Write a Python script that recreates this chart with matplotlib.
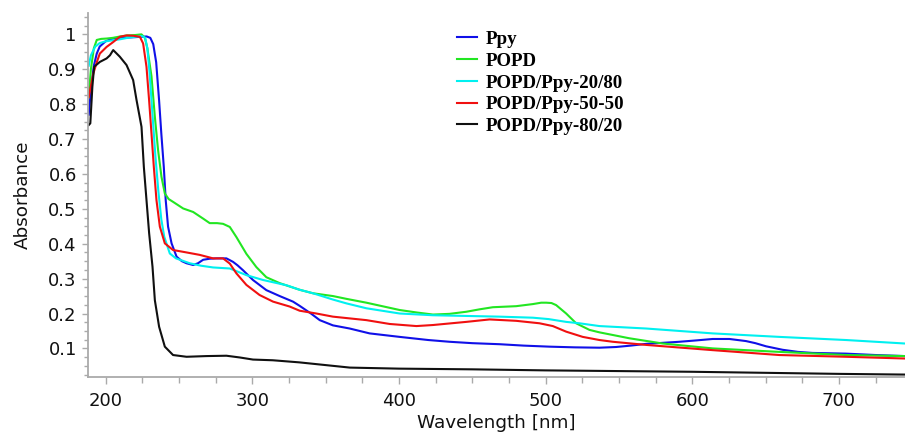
import matplotlib
matplotlib.use("Agg")
import matplotlib.pyplot as plt
from matplotlib.ticker import MultipleLocator, FuncFormatter

# ===== DATA =====
ppy_w = [188.5, 190, 192, 194, 196, 200, 205, 210, 220, 228, 230.5, 232.5, 234.5, 236.5, 238,
         239.7, 241, 242.6, 245, 248.4, 252, 255.2, 259.7, 263, 266.5, 271, 275.6, 282.4, 286.9,
         290, 293.7, 300.5, 309.6, 318.7, 327.8, 332.3, 340, 346, 355, 366.4, 380, 400.5, 420,
         434.5, 450, 468.6, 485, 502.6, 520, 536.7, 548, 558, 568.5, 580, 591.2, 603, 613.9,
         625.3, 636.6, 643, 650.3, 661.6, 672, 682, 694, 704.8, 725, 745]
ppy_a = [0.77, 0.84, 0.91, 0.945, 0.965, 0.98, 0.988, 0.99, 0.992, 0.994, 0.99, 0.972, 0.92, 0.81,
         0.716, 0.62, 0.525, 0.449, 0.401, 0.363, 0.35, 0.344, 0.339, 0.344, 0.354, 0.357, 0.358,
         0.358, 0.348, 0.338, 0.324, 0.296, 0.267, 0.25, 0.234, 0.222, 0.2, 0.181, 0.166, 0.157,
         0.143, 0.133, 0.124, 0.119, 0.115, 0.112, 0.108, 0.105, 0.103, 0.102, 0.104, 0.108,
         0.113, 0.116, 0.119, 0.123, 0.127, 0.127, 0.121, 0.115, 0.106, 0.096, 0.09, 0.087,
         0.086, 0.085, 0.081, 0.078]

popd_w = [188.5, 190, 192, 194, 197, 200.7, 205, 210, 215, 220, 224.5, 226.8, 228.5, 231.3, 233.6,
          235.8, 238.1, 240.4, 243, 246, 252.9, 259.7, 266.5, 271, 276, 280.1, 284.7, 289.2, 296,
          302.8, 309.6, 318.7, 332.3, 341.4, 355, 364.2, 377.8, 400.5, 412, 423.2, 434.5, 445.9,
          455, 464, 479.9, 491.3, 497, 500.4, 504, 507.2, 514, 520.8, 529.9, 536.7, 557.1, 579.8,
          613.9, 659.3, 704.8, 745]
popd_a = [0.82, 0.9, 0.96, 0.984, 0.987, 0.988, 0.99, 0.994, 0.997, 0.998, 1.0, 0.99, 0.96, 0.88,
          0.764, 0.668, 0.592, 0.544, 0.528, 0.52, 0.501, 0.491, 0.472, 0.459, 0.459, 0.457, 0.448,
          0.419, 0.371, 0.333, 0.304, 0.287, 0.268, 0.258, 0.25, 0.242, 0.231, 0.21, 0.203, 0.197,
          0.199, 0.205, 0.212, 0.218, 0.221, 0.227, 0.231, 0.231, 0.23, 0.224, 0.2, 0.172, 0.153,
          0.146, 0.129, 0.114, 0.1, 0.09, 0.081, 0.078]

mix2080_w = [188.5, 190, 193, 196, 200, 205, 210, 215, 220, 225, 227, 228.5, 230, 232, 234, 236,
             238, 240, 243.8, 248, 257.4, 265, 273.3, 284.7, 296, 307.4, 323.3, 332.3, 341.4, 355,
             364.2, 377.8, 400.5, 423.2, 445.9, 468.6, 491.3, 502, 514, 523, 536.7, 568.5, 613.9,
             659.3, 704.8, 745]
mix2080_a = [0.91, 0.94, 0.965, 0.975, 0.98, 0.983, 0.986, 0.99, 0.993, 0.995, 0.99, 0.96, 0.89,
             0.77, 0.65, 0.55, 0.47, 0.42, 0.372, 0.358, 0.344, 0.337, 0.332, 0.329, 0.31, 0.296,
             0.281, 0.268, 0.258, 0.24, 0.229, 0.215, 0.2, 0.195, 0.193, 0.191, 0.188, 0.184,
             0.176, 0.172, 0.164, 0.157, 0.143, 0.133, 0.124, 0.114]

mix5050_w = [188.5, 191.6, 194, 196.1, 200.7, 205.2, 209.7, 214.3, 219, 223.4, 225.6, 227.9, 229.7,
             231.3, 232.9, 234.7, 237, 240.4, 246, 255.2, 264.2, 273.3, 280.1, 284.7, 289.2, 296,
             305, 314.2, 325.5, 332.3, 343.7, 355, 377.8, 393.7, 411.9, 423.2, 445.9, 461.8, 480,
             495.8, 504.9, 514, 525.3, 536.7, 545.8, 568.5, 613.9, 659.3, 704.8, 745]
mix5050_a = [0.82, 0.887, 0.92, 0.945, 0.964, 0.978, 0.993, 0.997, 0.996, 0.993, 0.974, 0.907,
             0.81, 0.716, 0.62, 0.525, 0.449, 0.401, 0.382, 0.375, 0.368, 0.358, 0.358, 0.343,
             0.315, 0.282, 0.253, 0.234, 0.22, 0.208, 0.2, 0.191, 0.181, 0.17, 0.164, 0.167, 0.176,
             0.183, 0.179, 0.172, 0.164, 0.148, 0.133, 0.124, 0.119, 0.11, 0.095, 0.081, 0.076, 0.071]

mix8020_w = [188.5, 189.6, 191, 192.2, 196.1, 200.7, 203, 205.2, 209.7, 214.3, 218.8, 221.1, 224.5,
             226.1, 227.9, 229.7, 232, 233.6, 236.5, 240.4, 246, 255.2, 262, 268.8, 282.4, 291.5,
             300.5, 314, 332, 366.5, 400, 450, 500, 550, 600, 650, 700, 745]
mix8020_a = [0.74, 0.745, 0.85, 0.907, 0.921, 0.931, 0.94, 0.955, 0.936, 0.912, 0.869, 0.812, 0.735,
             0.62, 0.525, 0.43, 0.334, 0.238, 0.162, 0.105, 0.081, 0.076, 0.077, 0.078, 0.079,
             0.074, 0.068, 0.066, 0.06, 0.045, 0.042, 0.04, 0.037, 0.035, 0.033, 0.03, 0.027, 0.025]

series = [
    ("Ppy", ppy_w, ppy_a, "#1010e8"),
    ("POPD", popd_w, popd_a, "#22e622"),
    ("POPD/Ppy-20/80", mix2080_w, mix2080_a, "#00f0f0"),
    ("POPD/Ppy-50-50", mix5050_w, mix5050_a, "#f01010"),
    ("POPD/Ppy-80/20", mix8020_w, mix8020_a, "#101010"),
]

# ===== VẼ BIỂU ĐỒ =====
fig = plt.figure(figsize=(9.05, 4.33), dpi=100)
ax = fig.add_axes([0.0972, 0.1293, 0.9028, 0.8397])

for label, w, a, color in series:
    ax.plot(w, a, color=color, lw=1.5, label=label)

ax.set_xlim(188, 745)
ax.set_ylim(0.018, 1.06)

ax.xaxis.set_major_locator(MultipleLocator(100))
ax.xaxis.set_minor_locator(MultipleLocator(25))
ax.yaxis.set_major_locator(MultipleLocator(0.1))
ax.yaxis.set_minor_locator(MultipleLocator(0.025))
ax.yaxis.set_major_formatter(FuncFormatter(lambda v, p: "%g" % round(v, 2)))

axis_grey = "#aaaaaa"
for side in ["top", "right"]:
    ax.spines[side].set_visible(False)
for side in ["left", "bottom"]:
    ax.spines[side].set_color(axis_grey)
    ax.spines[side].set_linewidth(1.3)

ax.tick_params(axis="both", which="both", color=axis_grey, width=1, direction="out",
               labelsize=13, labelcolor="#111111")
ax.tick_params(axis="x", which="major", length=5, pad=6)
ax.tick_params(axis="x", which="minor", length=4)
ax.tick_params(axis="y", which="major", length=4, pad=4)
ax.tick_params(axis="y", which="minor", length=3)

ax.set_xlabel("Wavelength [nm]", fontsize=13.2, color="#111111", labelpad=3)
ax.set_ylabel("Absorbance", fontsize=13.2, color="#111111", labelpad=12)

ax.legend(loc="upper left", bbox_to_anchor=(0.486, 0.968), bbox_transform=fig.transFigure,
          frameon=False, handlelength=1.05, handletextpad=0.5, labelspacing=0.24,
          prop={"family": "Liberation Serif", "weight": "bold", "size": 13.6})

# ===== SAVE IMAGE ====
plt.savefig("out.png", dpi=100)
plt.close()
